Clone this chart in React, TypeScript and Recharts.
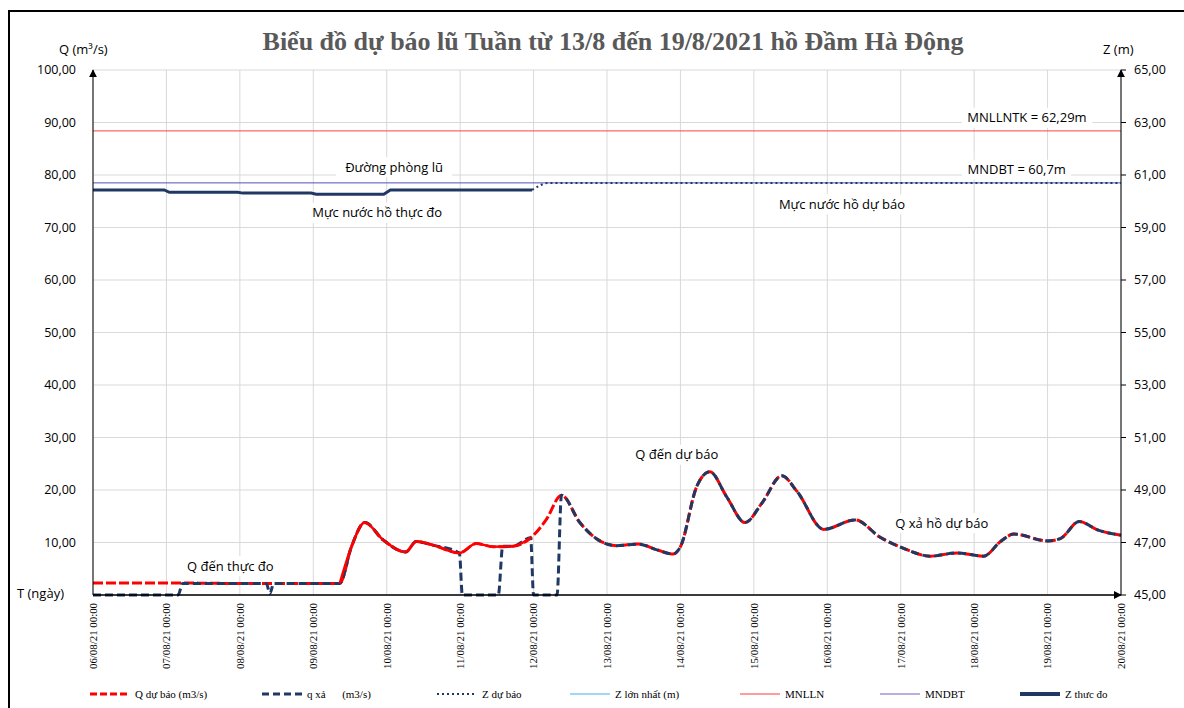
import React from "react";
import { LineChart, Line, XAxis, YAxis, CartesianGrid, ReferenceLine, ReferenceDot } from "recharts";

// x axis: days since 06/08/21 00:00
const xTickLabels = [
  "06/08/21 00:00", "07/08/21 00:00", "08/08/21 00:00", "09/08/21 00:00", "10/08/21 00:00",
  "11/08/21 00:00", "12/08/21 00:00", "13/08/21 00:00", "14/08/21 00:00", "15/08/21 00:00",
  "16/08/21 00:00", "17/08/21 00:00", "18/08/21 00:00", "19/08/21 00:00", "20/08/21 00:00",
];
const xTicks = [0, 1, 2, 3, 4, 5, 6, 7, 8, 9, 10, 11, 12, 13, 14];
const qTicks = [0, 10, 20, 30, 40, 50, 60, 70, 80, 90, 100];
const zTicks = [45, 47, 49, 51, 53, 55, 57, 59, 61, 63, 65];

// Q dự báo (m3/s)
const qDuBaoT = [0, 1, 2, 3, 3.36, 3.52, 3.7, 3.95, 4.26, 4.4, 4.63, 4.99, 5.22, 5.45, 5.72, 5.97, 6.17, 6.38, 6.63, 6.88, 7.13, 7.43, 7.68, 7.9, 8.0, 8.22, 8.4, 8.63, 8.88, 9.11, 9.38, 9.59, 9.95, 10.38, 10.72, 11.04, 11.4, 11.77, 12.13, 12.36, 12.54, 13.0, 13.18, 13.43, 13.68, 14.0];
const qDuBaoV = [2.3, 2.3, 2.2, 2.2, 2.2, 9.2, 13.8, 10.5, 8.2, 10.2, 9.5, 8.0, 9.8, 9.2, 9.3, 11.0, 14.3, 19.0, 13.8, 10.5, 9.4, 9.7, 8.6, 7.8, 9.2, 20.6, 23.5, 18.7, 13.8, 17.5, 22.7, 19.7, 12.5, 14.3, 11.0, 8.9, 7.4, 8.0, 7.4, 10.2, 11.6, 10.3, 10.8, 14.0, 12.4, 11.4];

// Q đến thực đo (measured part)
const qThucDoT = [3.36, 3.52, 3.7, 3.95, 4.26, 4.4, 4.63, 4.99, 5.22, 5.45, 5.72, 5.97];
const qThucDoV = [2.2, 9.2, 13.8, 10.5, 8.2, 10.2, 9.5, 8.0, 9.8, 9.2, 9.3, 11.0];

// q xả (m3/s)
const qXaT = [0, 1.16, 1.22, 2.0, 2.36, 2.41, 2.46, 3.0, 3.36, 3.52, 3.7, 3.95, 4.26, 4.4, 4.63, 4.99, 5.03, 5.52, 5.58, 5.72, 5.96, 6.0, 6.32, 6.38, 6.63, 6.88, 7.13, 7.43, 7.68, 7.9, 8.0, 8.22, 8.4, 8.63, 8.88, 9.11, 9.38, 9.59, 9.95, 10.38, 10.72, 11.04, 11.4, 11.77, 12.13, 12.36, 12.54, 13.0, 13.18, 13.43, 13.68, 14.0];
const qXaV = [0, 0, 2.2, 2.2, 2.2, 0.3, 2.2, 2.2, 2.2, 9.2, 13.8, 10.5, 8.2, 10.2, 9.5, 8.0, 0, 0, 9.3, 9.3, 10.9, 0, 0, 19.0, 13.8, 10.5, 9.4, 9.7, 8.6, 7.8, 9.2, 20.6, 23.5, 18.7, 13.8, 17.5, 22.7, 19.7, 12.5, 14.3, 11.0, 8.9, 7.4, 8.0, 7.4, 10.2, 11.6, 10.3, 10.8, 14.0, 12.4, 11.4];

// Z thực đo / Z dự báo (m)
const zThucDoT = [0, 0.97, 1.04, 1.97, 2.04, 2.97, 3.04, 3.96, 4.05, 5.98];
const zThucDoV = [60.43, 60.43, 60.34, 60.34, 60.31, 60.31, 60.27, 60.27, 60.43, 60.43];
const zDuBaoT = [5.98, 6.1, 6.2, 14];
const zDuBaoV = [60.43, 60.62, 60.7, 60.7];

const mnllnLevel = 62.68;
const mndbtLevel = 60.7;

const annotations = [
  { text: "Đường phòng lũ", t: 4.1, q: 81.5 },
  { text: "Mực nước hồ thực đo", t: 3.87, q: 72.8 },
  { text: "MNLLNTK = 62,29m", t: 12.72, q: 90.9 },
  { text: "MNDBT = 60,7m", t: 12.58, q: 81.0 },
  { text: "Mực nước hồ dự báo", t: 10.2, q: 74.4 },
  { text: "Q đến dự báo", t: 7.95, q: 26.7 },
  { text: "Q xả hồ dự báo", t: 11.56, q: 13.7 },
  { text: "Q đến thực đo", t: 1.87, q: 5.5 },
];

const legendItems = [
  { name: "Q dự báo (m3/s)", color: "#ff0000", dash: "7 3", w: 3, x: 90 },
  { name: "q xả      (m3/s)", color: "#1f3864", dash: "7 4", w: 3, x: 262 },
  { name: "Z dự báo", color: "#1f3864", dash: "2 3", w: 2, x: 437 },
  { name: "Z lớn nhất (m)", color: "#3fb4ea", dash: "", w: 1, x: 570 },
  { name: "MNLLN", color: "#ff3b3b", dash: "", w: 1, x: 740 },
  { name: "MNDBT", color: "#7a5cc0", dash: "", w: 1, x: 880 },
  { name: "Z thưc đo", color: "#1f3864", dash: "", w: 4, x: 1020 },
];

const pts = (t: number[], v: number[]) => t.map((x, i) => ({ t: x, v: v[i] }));

const fmt = (v: number) => v.toFixed(2).replace(".", ",");
// the origin of the Q axis carries the "T (ngày)" caption instead of a number
const fmtQ = (v: number) => (v === 0 ? "" : fmt(v));

function RotatedTick(props: any) {
  const { x, y, payload } = props;
  return (
    <text
      x={x}
      y={y}
      transform={`rotate(-90 ${x} ${y})`}
      textAnchor="end"
      dy="0.35em"
      fontFamily="Liberation Serif"
      fontSize={11}
      fill="#000"
      textLength={66}
      lengthAdjust="spacingAndGlyphs"
    >
      {xTickLabels[payload.value]}
    </text>
  );
}

function boxLabel(text: string) {
  return (p: any) => {
    const w = text.length * 7.3 + 14;
    return (
      <g>
        <rect x={p.cx - w / 2} y={p.cy - 10} width={w} height={20} fill="#fff" />
        <text x={p.cx} y={p.cy} dy="0.35em" textAnchor="middle" fontFamily="Open Sans" fontSize={13} fill="#000">
          {text}
        </text>
      </g>
    );
  };
}

const sans = "Open Sans";

export default function App() {
  return (
    <div style={{ position: "fixed", left: 0, top: 0, width: 1184, height: 708, overflow: "hidden", background: "#fff" }}>
      <div style={{ position: "absolute", left: 8, top: 10, width: 1200, height: 720, borderLeft: "2px solid #000", borderTop: "2px solid #000" }} />
      <div style={{ position: "absolute", left: 0, top: 27, width: 1226, textAlign: "center", fontFamily: "Liberation Serif", fontWeight: "bold", fontSize: 26, color: "#595959", whiteSpace: "nowrap" }}>
        Biểu đồ dự báo lũ Tuần từ 13/8 đến 19/8/2021 hồ Đầm Hà Động
      </div>
      <div style={{ position: "absolute", left: 59, top: 40, fontFamily: sans, fontSize: 13 }}>Q (m³/s)</div>
      <div style={{ position: "absolute", left: 1103, top: 40, fontFamily: sans, fontSize: 13 }}>Z (m)</div>
      <div style={{ position: "absolute", left: 17, top: 584, fontFamily: sans, fontSize: 13 }}>T (ngày)</div>

      <div style={{ position: "absolute", left: 0, top: 0 }}>
        <LineChart width={1184} height={708} margin={{ top: 70, right: 13, left: 33, bottom: 33 }}>
          <defs>
            <marker id="arrowHead" viewBox="0 0 10 10" refX="9" refY="5" markerWidth="8" markerHeight="8" orient="auto-start-reverse" markerUnits="userSpaceOnUse">
              <path d="M0,0 L10,5 L0,10 z" fill="#000" />
            </marker>
          </defs>
          <CartesianGrid yAxisId="q" stroke="#d9d9d9" />
          <XAxis
            dataKey="t"
            type="number"
            domain={[0, 14]}
            ticks={xTicks}
            interval={0}
            height={80}
            tick={<RotatedTick />}
            tickLine={false}
            axisLine={{ stroke: "#000", strokeWidth: 1.5, markerEnd: "url(#arrowHead)" }}
          />
          <YAxis
            yAxisId="q"
            orientation="left"
            width={60}
            domain={[0, 100]}
            ticks={qTicks}
            interval={0}
            tickFormatter={fmtQ}
            tickLine={false}
            tickMargin={11}
            axisLine={{ stroke: "#000", markerStart: "url(#arrowHead)" }}
            tick={{ fill: "#000", fontSize: 12.5, fontFamily: sans }}
          />
          <YAxis
            yAxisId="z"
            orientation="right"
            width={50}
            domain={[45, 65]}
            ticks={zTicks}
            interval={0}
            tickFormatter={fmt}
            tickSize={5}
            tickMargin={8}
            tickLine={{ stroke: "#000" }}
            axisLine={{ stroke: "#000", markerStart: "url(#arrowHead)" }}
            tick={{ fill: "#000", fontSize: 12.5, fontFamily: sans }}
          />

          {annotations.map((a) => (
            <ReferenceDot key={a.text} x={a.t} y={a.q} yAxisId="q" r={0} shape={boxLabel(a.text)} />
          ))}

          <ReferenceLine yAxisId="z" y={mnllnLevel} stroke="#ff4040" strokeWidth={1} />
          <ReferenceLine yAxisId="z" y={mndbtLevel} stroke="#5050c0" strokeWidth={1} />

          <Line yAxisId="q" data={pts(qDuBaoT, qDuBaoV)} dataKey="v" type="monotone" stroke="#ff0000" strokeWidth={3} strokeDasharray="10 3" dot={false} isAnimationActive={false} />
          <Line yAxisId="q" data={pts(qXaT, qXaV)} dataKey="v" type="monotone" stroke="#1f3864" strokeWidth={3} strokeDasharray="8 4" dot={false} isAnimationActive={false} />
          <Line yAxisId="q" data={pts(qThucDoT, qThucDoV)} dataKey="v" type="monotone" stroke="#ff0000" strokeWidth={2.5} dot={false} isAnimationActive={false} />
          <Line yAxisId="z" data={pts(zDuBaoT, zDuBaoV)} dataKey="v" type="monotone" stroke="#1f3864" strokeWidth={2} strokeDasharray="2 3" dot={false} isAnimationActive={false} />
          <Line yAxisId="z" data={pts(zThucDoT, zThucDoV)} dataKey="v" type="linear" stroke="#1f3864" strokeWidth={3} dot={false} isAnimationActive={false} />
        </LineChart>
      </div>

      <svg style={{ position: "absolute", left: 0, top: 684 }} width={1184} height={20}>
        {legendItems.map((it) => (
          <g key={it.name}>
            <line x1={it.x} y1={10} x2={it.x + 40} y2={10} stroke={it.color} strokeWidth={it.w} strokeDasharray={it.dash || undefined} />
            <text x={it.x + 45} y={10} dy="0.35em" fontFamily="Liberation Serif" fontSize={11} fill="#000" style={{ whiteSpace: "pre" }}>
              {it.name}
            </text>
          </g>
        ))}
      </svg>
    </div>
  );
}
